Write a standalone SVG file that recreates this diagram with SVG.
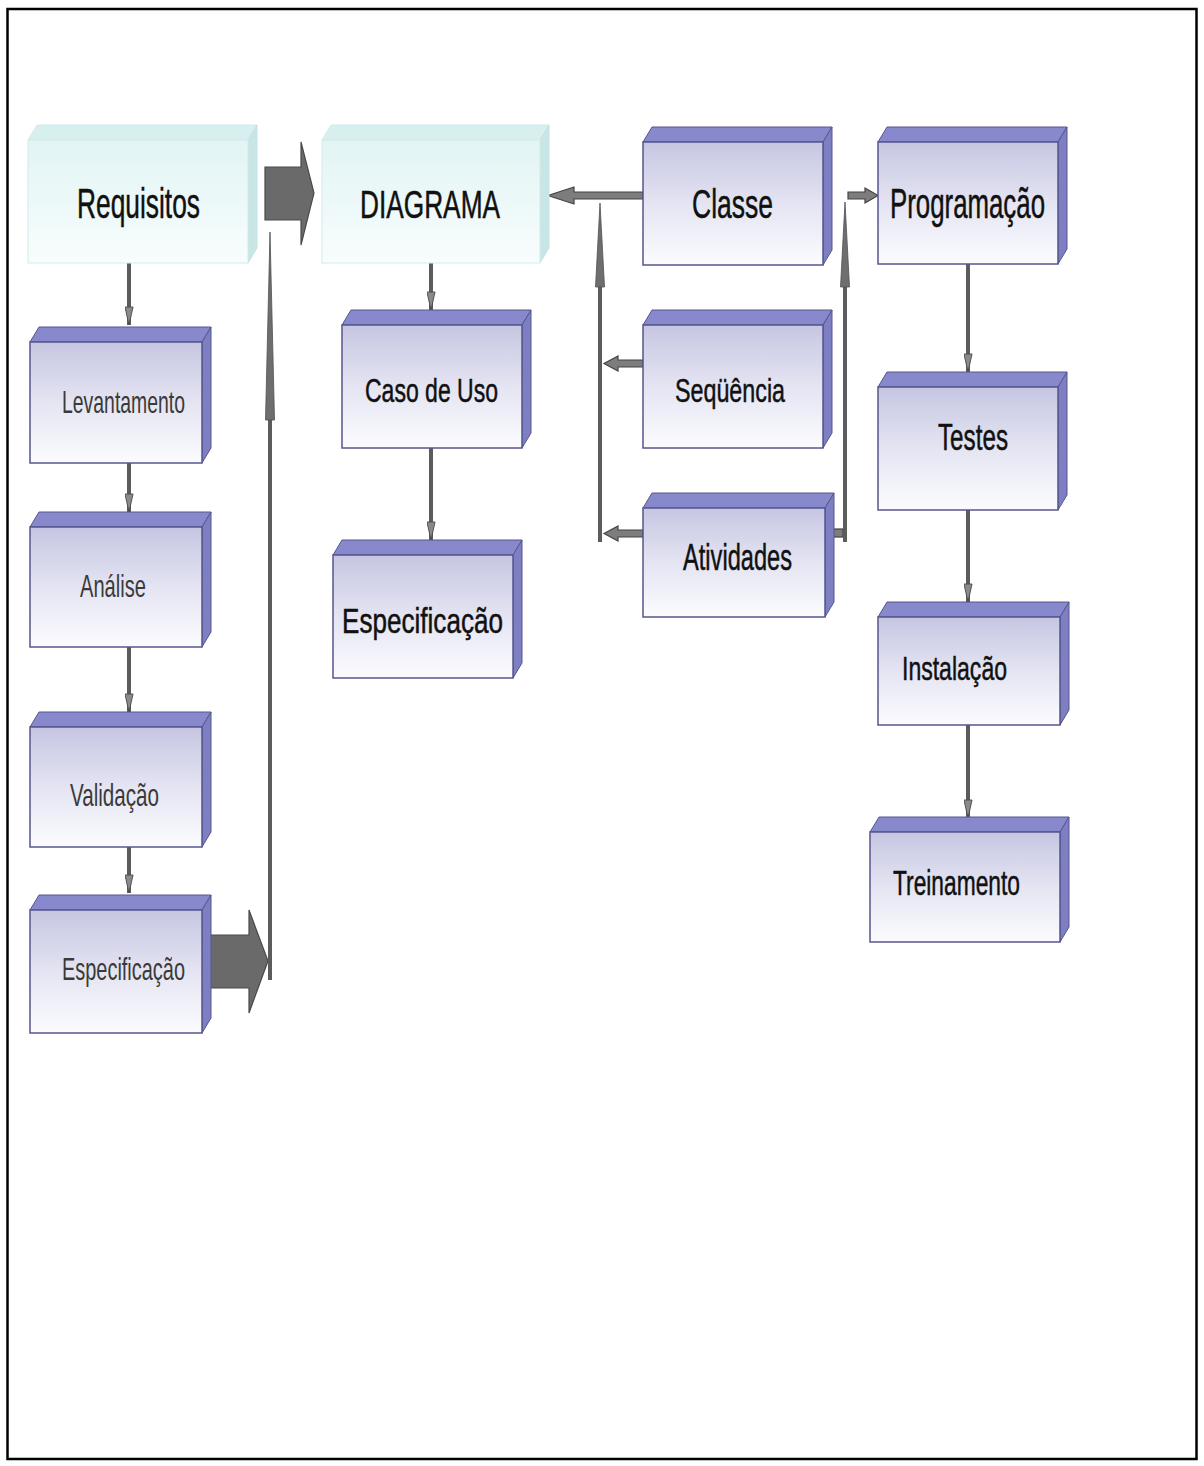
<svg xmlns="http://www.w3.org/2000/svg" width="1204" height="1466" viewBox="0 0 1204 1466">
  <defs>
    <linearGradient id="gLav" x1="0" y1="0" x2="0" y2="1">
      <stop offset="0" stop-color="#c6c6e2"/>
      <stop offset="0.55" stop-color="#e7e7f4"/>
      <stop offset="1" stop-color="#fbfbff"/>
    </linearGradient>
    <linearGradient id="gCyan" x1="0" y1="0" x2="0" y2="1">
      <stop offset="0" stop-color="#e2f4f4"/>
      <stop offset="1" stop-color="#f8fdfd"/>
    </linearGradient>
    <marker id="head" markerUnits="userSpaceOnUse" viewBox="0 0 20 10" refX="20" refY="5" markerWidth="22" markerHeight="9" orient="auto">
      <path d="M0,0.5 L20,5 L0,9.5 Z" fill="#8a8a8a" stroke="#4a4a4a" stroke-width="1"/>
    </marker>
    <style>
      .frame { fill: none; stroke: #000; stroke-width: 2.5; }
      .lavFront { fill: url(#gLav); stroke: #56568f; stroke-width: 1.5; }
      .lavTop { fill: #8888cc; stroke: #56568f; stroke-width: 1; }
      .lavSide { fill: #7e7ec2; stroke: #56568f; stroke-width: 1; }
      .cyFront { fill: url(#gCyan); stroke: #d3eaea; stroke-width: 1; }
      .cyTop { fill: #d8efef; stroke: #d3eaea; stroke-width: 1; }
      .cySide { fill: #c9e6e6; stroke: #c6e2e2; stroke-width: 1; }
      .lbl { font-family: "Liberation Sans", Arial, sans-serif; fill: #111; stroke: #111; stroke-width: 0.5; }
      .sub { font-family: "Liberation Sans", Arial, sans-serif; fill: #3a3a3a; }
      .wire { fill: none; stroke: #5c5c5c; stroke-width: 4; }
      .blk { fill: #7d7d7d; stroke: #444; stroke-width: 1.2; }
      .fat { fill: #6a6a6a; stroke: #4a4a4a; stroke-width: 1.2; }
      .spear { fill: #6e6e6e; stroke: #505050; stroke-width: 0.8; }
    </style>
  </defs>

  <rect class="frame" x="7.5" y="9" width="1189" height="1450"/>

  <!-- connectors -->
  <g id="connectors">
    <!-- left column chain -->
    <line class="wire" x1="129" y1="263" x2="129" y2="325" marker-end="url(#head)"/>
    <line class="wire" x1="129" y1="463" x2="129" y2="512" marker-end="url(#head)"/>
    <line class="wire" x1="129" y1="647" x2="129" y2="712" marker-end="url(#head)"/>
    <line class="wire" x1="129" y1="847" x2="129" y2="893" marker-end="url(#head)"/>
    <!-- middle column chain -->
    <line class="wire" x1="431" y1="263" x2="431" y2="310" marker-end="url(#head)"/>
    <line class="wire" x1="431" y1="448" x2="431" y2="540" marker-end="url(#head)"/>
    <!-- right column chain -->
    <line class="wire" x1="968" y1="264" x2="968" y2="372" marker-end="url(#head)"/>
    <line class="wire" x1="968" y1="510" x2="968" y2="602" marker-end="url(#head)"/>
    <line class="wire" x1="968" y1="725" x2="968" y2="818" marker-end="url(#head)"/>

    <!-- block arrow Requisitos -> DIAGRAMA -->
    <polygon class="fat" points="265,167 301,167 301,142 314,193 301,245 301,220 265,220"/>
    <!-- block arrow from Especificacao into the return line -->
    <polygon class="fat" points="202,935 249,935 249,910 268,961 249,1013 249,988 202,988"/>
    <!-- return line up along x=270 -->
    <line class="wire" x1="270" y1="980" x2="270" y2="418"/>
    <polygon class="spear" points="270,232 274.5,420 265.5,420"/>

    <!-- Classe -> DIAGRAMA -->
    <polygon class="blk" points="643,192 574,192 574,187 548,195.5 574,204 574,199 643,199"/>
    <!-- collector line x=600 rising to the Classe arrow -->
    <line class="wire" x1="600" y1="542" x2="600" y2="285"/>
    <polygon class="spear" points="600,203 604.5,287 595.5,287"/>
    <!-- Sequencia -> collector -->
    <polygon class="blk" points="643,360 618,360 618,356 604,363.5 618,371 618,367 643,367"/>
    <!-- Atividades -> collector -->
    <polygon class="blk" points="643,530 618,530 618,526 604,533.5 618,541 618,537 643,537"/>

    <!-- Atividades -> Programacao -->
    <rect class="blk" x="827" y="529" width="16" height="8"/>
    <line class="wire" x1="845" y1="542" x2="845" y2="285"/>
    <polygon class="spear" points="845,202 849.5,287 840.5,287"/>
    <polygon class="blk" points="848,192 865,192 865,188 878,195.5 865,203 865,199 848,199"/>
  </g>

  <!-- Requisitos -->
  <g id="node-requisitos">
    <polygon class="cyTop" points="28,140 37,125 257,125 248,140"/>
    <polygon class="cySide" points="248,140 257,125 257,248 248,263"/>
    <rect class="cyFront" x="28" y="140" width="220" height="123"/>
    <text class="lbl" x="77" y="218" font-size="42" textLength="123" lengthAdjust="spacingAndGlyphs">Requisitos</text>
  </g>

  <!-- DIAGRAMA -->
  <g id="node-diagrama">
    <polygon class="cyTop" points="322,140 331,125 549,125 540,140"/>
    <polygon class="cySide" points="540,140 549,125 549,248 540,263"/>
    <rect class="cyFront" x="322" y="140" width="218" height="123"/>
    <text class="lbl" x="360" y="218" font-size="39" textLength="140" lengthAdjust="spacingAndGlyphs">DIAGRAMA</text>
  </g>

  <!-- Levantamento -->
  <g id="node-levantamento">
    <polygon class="lavTop" points="30,342 39,327 211,327 202,342"/>
    <polygon class="lavSide" points="202,342 211,327 211,448 202,463"/>
    <rect class="lavFront" x="30" y="342" width="172" height="121"/>
    <text class="sub" x="62" y="413" font-size="32" textLength="123" lengthAdjust="spacingAndGlyphs">Levantamento</text>
  </g>

  <!-- Analise -->
  <g id="node-analise">
    <polygon class="lavTop" points="30,527 39,512 211,512 202,527"/>
    <polygon class="lavSide" points="202,527 211,512 211,632 202,647"/>
    <rect class="lavFront" x="30" y="527" width="172" height="120"/>
    <text class="sub" x="80" y="597" font-size="32" textLength="66" lengthAdjust="spacingAndGlyphs">Análise</text>
  </g>

  <!-- Validacao -->
  <g id="node-validacao">
    <polygon class="lavTop" points="30,727 39,712 211,712 202,727"/>
    <polygon class="lavSide" points="202,727 211,712 211,832 202,847"/>
    <rect class="lavFront" x="30" y="727" width="172" height="120"/>
    <text class="sub" x="70" y="806" font-size="32" textLength="89" lengthAdjust="spacingAndGlyphs">Validação</text>
  </g>

  <!-- Especificacao (requisitos) -->
  <g id="node-especificacao-req">
    <polygon class="lavTop" points="30,910 39,895 211,895 202,910"/>
    <polygon class="lavSide" points="202,910 211,895 211,1018 202,1033"/>
    <rect class="lavFront" x="30" y="910" width="172" height="123"/>
    <text class="sub" x="62" y="980" font-size="32" textLength="123" lengthAdjust="spacingAndGlyphs">Especificação</text>
  </g>

  <!-- Caso de Uso -->
  <g id="node-caso-de-uso">
    <polygon class="lavTop" points="342,325 351,310 531,310 522,325"/>
    <polygon class="lavSide" points="522,325 531,310 531,433 522,448"/>
    <rect class="lavFront" x="342" y="325" width="180" height="123"/>
    <text class="lbl" x="365" y="402" font-size="33" textLength="133" lengthAdjust="spacingAndGlyphs">Caso de Uso</text>
  </g>

  <!-- Especificacao (diagrama) -->
  <g id="node-especificacao-diag">
    <polygon class="lavTop" points="333,555 342,540 522,540 513,555"/>
    <polygon class="lavSide" points="513,555 522,540 522,663 513,678"/>
    <rect class="lavFront" x="333" y="555" width="180" height="123"/>
    <text class="lbl" x="342" y="633" font-size="35" textLength="161" lengthAdjust="spacingAndGlyphs">Especificação</text>
  </g>

  <!-- Classe -->
  <g id="node-classe">
    <polygon class="lavTop" points="643,142 652,127 832,127 823,142"/>
    <polygon class="lavSide" points="823,142 832,127 832,250 823,265"/>
    <rect class="lavFront" x="643" y="142" width="180" height="123"/>
    <text class="lbl" x="692" y="218" font-size="40" textLength="81" lengthAdjust="spacingAndGlyphs">Classe</text>
  </g>

  <!-- Sequencia -->
  <g id="node-sequencia">
    <polygon class="lavTop" points="643,325 652,310 832,310 823,325"/>
    <polygon class="lavSide" points="823,325 832,310 832,433 823,448"/>
    <rect class="lavFront" x="643" y="325" width="180" height="123"/>
    <text class="lbl" x="675" y="402" font-size="34" textLength="110" lengthAdjust="spacingAndGlyphs">Seqüência</text>
  </g>

  <!-- Atividades -->
  <g id="node-atividades">
    <polygon class="lavTop" points="643,508 652,493 834,493 825,508"/>
    <polygon class="lavSide" points="825,508 834,493 834,602 825,617"/>
    <rect class="lavFront" x="643" y="508" width="182" height="109"/>
    <text class="lbl" x="683" y="570" font-size="37" textLength="109" lengthAdjust="spacingAndGlyphs">Atividades</text>
  </g>

  <!-- Programacao -->
  <g id="node-programacao">
    <polygon class="lavTop" points="878,142 887,127 1067,127 1058,142"/>
    <polygon class="lavSide" points="1058,142 1067,127 1067,249 1058,264"/>
    <rect class="lavFront" x="878" y="142" width="180" height="122"/>
    <text class="lbl" x="890" y="218" font-size="42" textLength="155" lengthAdjust="spacingAndGlyphs">Programação</text>
  </g>

  <!-- Testes -->
  <g id="node-testes">
    <polygon class="lavTop" points="878,387 887,372 1067,372 1058,387"/>
    <polygon class="lavSide" points="1058,387 1067,372 1067,495 1058,510"/>
    <rect class="lavFront" x="878" y="387" width="180" height="123"/>
    <text class="lbl" x="938" y="450" font-size="36" textLength="70" lengthAdjust="spacingAndGlyphs">Testes</text>
  </g>

  <!-- Instalacao -->
  <g id="node-instalacao">
    <polygon class="lavTop" points="878,617 887,602 1069,602 1060,617"/>
    <polygon class="lavSide" points="1060,617 1069,602 1069,710 1060,725"/>
    <rect class="lavFront" x="878" y="617" width="182" height="108"/>
    <text class="lbl" x="902" y="680" font-size="33" textLength="105" lengthAdjust="spacingAndGlyphs">Instalação</text>
  </g>

  <!-- Treinamento -->
  <g id="node-treinamento">
    <polygon class="lavTop" points="870,832 879,817 1069,817 1060,832"/>
    <polygon class="lavSide" points="1060,832 1069,817 1069,927 1060,942"/>
    <rect class="lavFront" x="870" y="832" width="190" height="110"/>
    <text class="lbl" x="893" y="895" font-size="35" textLength="127" lengthAdjust="spacingAndGlyphs">Treinamento</text>
  </g>
</svg>
